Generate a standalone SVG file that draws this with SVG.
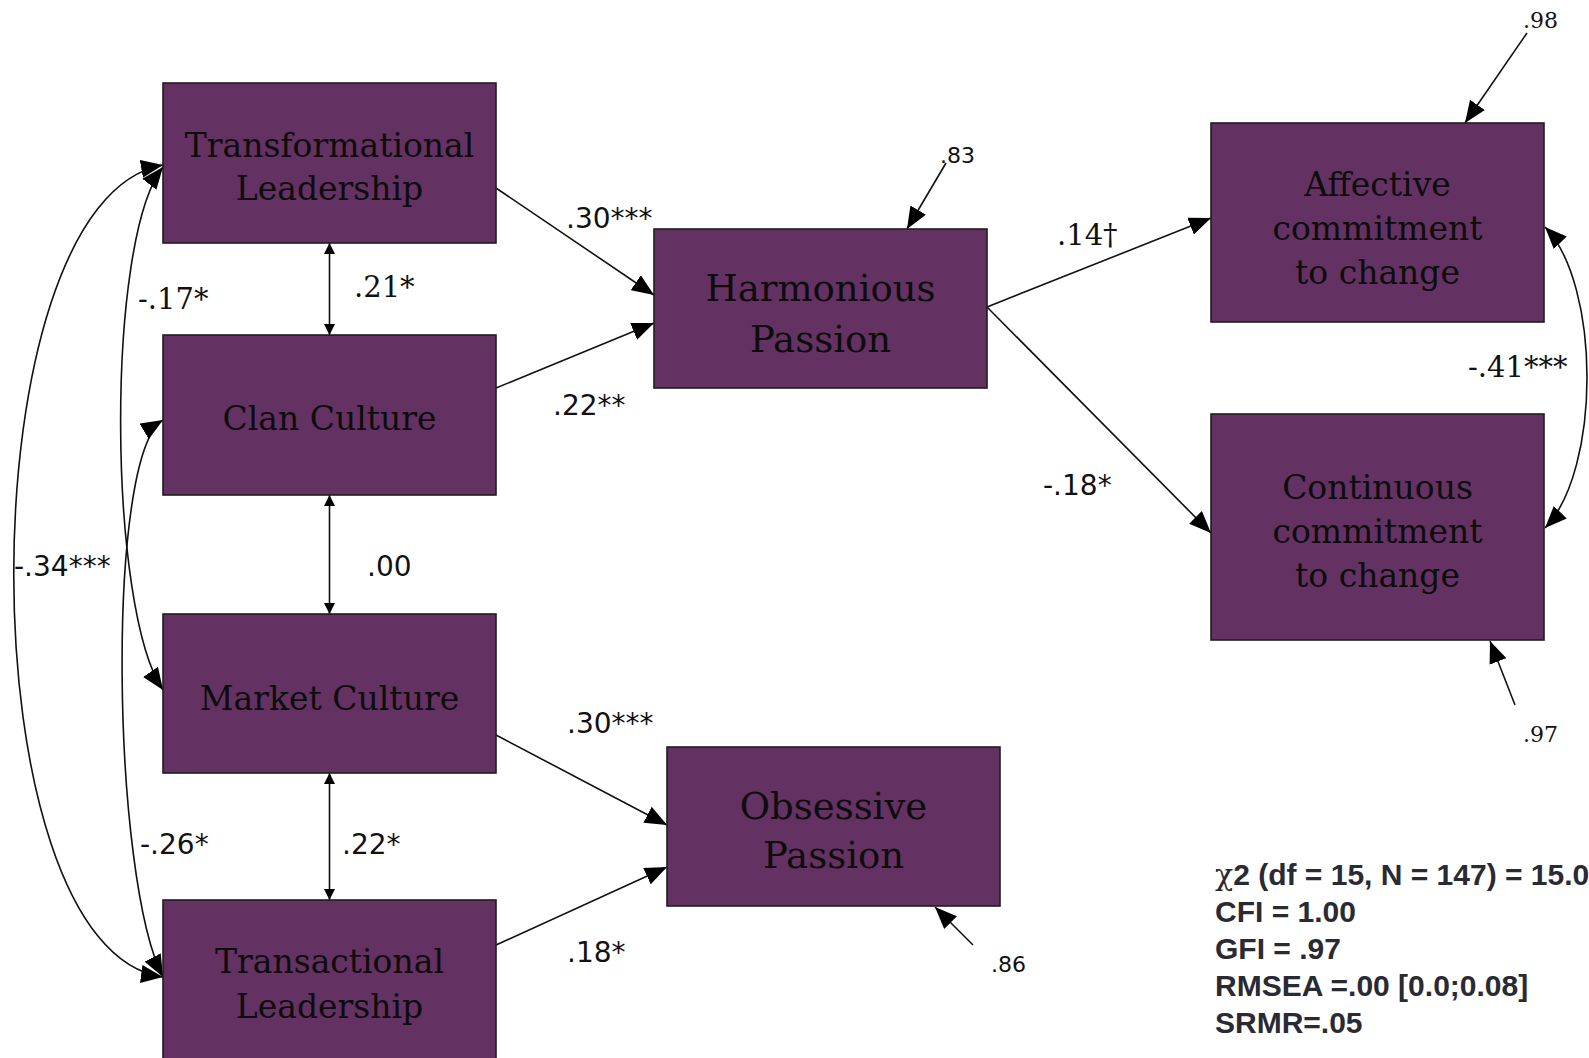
<svg xmlns="http://www.w3.org/2000/svg" width="1589" height="1058" viewBox="0 0 1589 1058">
  <style>
    .box { fill: #633162; stroke: #1e1e1e; stroke-width: 1.6; }
    .bt { font-family: "DejaVu Serif", "Liberation Serif", serif; font-size: 33px; fill: #0d0d0d; text-anchor: middle; }
    .bt2 { font-family: "DejaVu Serif", "Liberation Serif", serif; font-size: 37px; fill: #0d0d0d; text-anchor: middle; }
    .ln { fill: none; stroke: #111; stroke-width: 1.6; }
    .arr { marker-end: url(#ah); }
    .dbl { marker-start: url(#sm); marker-end: url(#sm); }
    .cur { marker-start: url(#ah); marker-end: url(#ah); }
    .ls { font-family: "DejaVu Sans", "Liberation Sans", sans-serif; font-size: 28px; fill: #111; }
    .lss { font-family: "DejaVu Sans", "Liberation Sans", sans-serif; font-size: 22px; fill: #111; }
    .lf { font-family: "DejaVu Serif", "Liberation Serif", serif; font-size: 29px; fill: #111; }
    .lfs { font-family: "DejaVu Serif", "Liberation Serif", serif; font-size: 22px; fill: #111; }
    .fit { font-family: "Liberation Sans", Arial, sans-serif; font-size: 30px; font-weight: bold; fill: #2a2a33; }
  </style>
  <defs>
    <marker id="ah" viewBox="0 0 22 18" refX="22" refY="9" markerWidth="22" markerHeight="18" markerUnits="userSpaceOnUse" orient="auto-start-reverse">
      <path d="M0,0 L22,9 L0,18 z" fill="#000"/>
    </marker>
    <marker id="sm" viewBox="0 0 11 11" refX="11" refY="5.5" markerWidth="11" markerHeight="11" markerUnits="userSpaceOnUse" orient="auto-start-reverse">
      <path d="M0,0 L11,5.5 L0,11 z" fill="#000"/>
    </marker>
  </defs>
  <rect width="1589" height="1058" fill="#fff"/>

  <g id="connectors">
    <line class="ln arr" x1="496" y1="188" x2="654" y2="295"/>
    <line class="ln arr" x1="496" y1="388" x2="654" y2="323"/>
    <line class="ln arr" x1="496" y1="735" x2="667" y2="825"/>
    <line class="ln arr" x1="496" y1="945" x2="667" y2="867"/>
    <line class="ln arr" x1="987" y1="307" x2="1211" y2="218"/>
    <line class="ln arr" x1="987" y1="307" x2="1211" y2="533"/>
    <line class="ln arr" x1="946" y1="163" x2="907" y2="229"/>
    <line class="ln arr" x1="1527" y1="33" x2="1465" y2="123"/>
    <line class="ln arr" x1="1515" y1="705" x2="1490" y2="641"/>
    <line class="ln arr" x1="973" y1="945" x2="935" y2="907"/>
    <line class="ln dbl" x1="329.5" y1="243" x2="329.5" y2="335"/>
    <line class="ln dbl" x1="329.5" y1="495" x2="329.5" y2="614"/>
    <line class="ln dbl" x1="329.5" y1="773" x2="329.5" y2="900"/>
    <path class="ln cur" d="M163,165 C-36,200 -36,950 163,977"/>
    <path class="ln cur" d="M163,167 C105,240 108,610 163,690"/>
    <path class="ln cur" d="M163,420 C105,455 112,880 163,977"/>
    <path class="ln cur" d="M1545,227 C1601,285 1601,470 1545,528"/>
    <text class="ls" x="566" y="228">.30***</text>
    <text class="ls" x="553" y="415">.22**</text>
    <text class="lf" x="354" y="297">.21*</text>
    <text class="lf" x="138" y="309">-.17*</text>
    <text class="ls" x="367" y="576">.00</text>
    <text class="ls" x="14" y="576">-.34***</text>
    <text class="ls" x="140" y="854">-.26*</text>
    <text class="ls" x="342" y="854">.22*</text>
    <text class="ls" x="567" y="733">.30***</text>
    <text class="ls" x="567" y="962">.18*</text>
    <text class="lss" x="991" y="972">.86</text>
    <text class="lss" x="940" y="163">.83</text>
    <text class="lf" x="1057" y="245">.14†</text>
    <text class="ls" x="1043" y="495">-.18*</text>
    <text class="lf" x="1468" y="377">-.41***</text>
    <text class="lfs" x="1523" y="28">.98</text>
    <text class="lfs" x="1523" y="742">.97</text>
  </g>

  <g id="transformational">
    <rect class="box" x="163" y="83" width="333" height="160"/>
    <text class="bt" x="329.5" y="157">Transformational</text>
    <text class="bt" x="329.5" y="200">Leadership</text>
  </g>
  <g id="clan">
    <rect class="box" x="163" y="335" width="333" height="160"/>
    <text class="bt" x="329.5" y="430">Clan Culture</text>
  </g>
  <g id="market">
    <rect class="box" x="163" y="614" width="333" height="159"/>
    <text class="bt" x="329.5" y="710">Market Culture</text>
  </g>
  <g id="transactional">
    <rect class="box" x="163" y="900" width="333" height="175"/>
    <text class="bt" x="329.5" y="973">Transactional</text>
    <text class="bt" x="329.5" y="1018">Leadership</text>
  </g>
  <g id="harmonious">
    <rect class="box" x="654" y="229" width="333" height="159"/>
    <text class="bt2" x="820.5" y="301">Harmonious</text>
    <text class="bt2" x="820.5" y="352">Passion</text>
  </g>
  <g id="obsessive">
    <rect class="box" x="667" y="747" width="333" height="159"/>
    <text class="bt2" x="833.5" y="819">Obsessive</text>
    <text class="bt2" x="833.5" y="868">Passion</text>
  </g>
  <g id="affective">
    <rect class="box" x="1211" y="123" width="333" height="199"/>
    <text class="bt" x="1377.5" y="196">Affective</text>
    <text class="bt" x="1377.5" y="240">commitment</text>
    <text class="bt" x="1377.5" y="284">to change</text>
  </g>
  <g id="continuous">
    <rect class="box" x="1211" y="414" width="333" height="226"/>
    <text class="bt" x="1377.5" y="499">Continuous</text>
    <text class="bt" x="1377.5" y="543">commitment</text>
    <text class="bt" x="1377.5" y="587">to change</text>
  </g>

  <g id="fit-stats">
    <text class="fit" x="1215" y="885"><tspan font-family="DejaVu Serif, serif" font-weight="normal">χ</tspan>2 (df = 15, N = 147) = 15.0</text>
    <text class="fit" x="1215" y="922">CFI = 1.00</text>
    <text class="fit" x="1215" y="959">GFI = .97</text>
    <text class="fit" x="1215" y="996">RMSEA =.00 [0.0;0.08]</text>
    <text class="fit" x="1215" y="1033">SRMR=.05</text>
  </g>
</svg>
